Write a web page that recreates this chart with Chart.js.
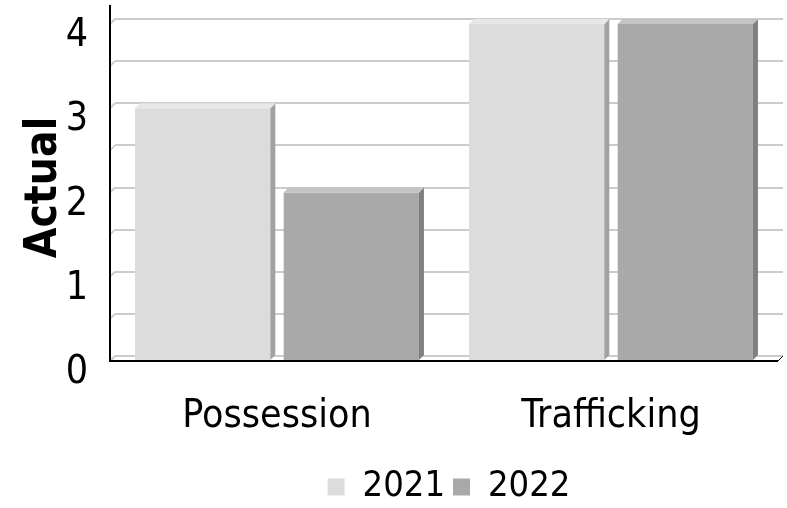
<!DOCTYPE html>
<html>
<head>
<meta charset="utf-8">
<script src="https://cdn.jsdelivr.net/npm/chart.js"></script>
<style>
  html, body { margin: 0; padding: 0; background: #fff; }
  #wrap { width: 787px; height: 508px; }
</style>
</head>
<body>
<div id="wrap"><canvas id="barChart" width="787" height="508"></canvas></div>
<script>
    const categories = ["Possession", "Trafficking"];
    const seriesNames = ["2021", "2022"];
    const values2021 = [3, 4];
    const values2022 = [2, 4];
    const yMin = 0;
    const yMax = 4;
    const yStep = 0.5;

    const FONT = "'DejaVu Sans Condensed', 'DejaVu Sans', sans-serif";
    const DEPTH = 5; // 3d offset of the back wall, in px

    // face colours: front, side, top
    const faces = [
        { front: "#dcdcdc", side: "#a2a2a2", top: "#e8e8e8" },
        { front: "#a9a9a9", side: "#808080", top: "#c4c4c4" }
    ];

    // draws the 3d look: axes, wall diagonals, bar sides and tops
    const fake3d = {
        id: "fake3d",
        afterDraw(chart) {
            let ctx = chart.ctx;
            let area = chart.chartArea;
            let y = chart.scales.y;

            ctx.save();
            // little diagonals where the back grid meets the axis
            ctx.strokeStyle = "#cccccc";
            ctx.lineWidth = 2;
            y.ticks.forEach(t => {
                let py = y.getPixelForValue(t.value);
                ctx.beginPath();
                ctx.moveTo(area.left, py);
                ctx.lineTo(area.left - DEPTH, py + DEPTH);
                ctx.stroke();
            });
            // axis lines
            ctx.strokeStyle = "#000";
            ctx.lineWidth = 2;
            ctx.beginPath();
            ctx.moveTo(area.left - DEPTH, 5);
            ctx.lineTo(area.left - DEPTH, area.bottom + DEPTH);
            ctx.lineTo(area.right - DEPTH, area.bottom + DEPTH);
            ctx.stroke();
            ctx.lineWidth = 1;
            ctx.beginPath();
            ctx.moveTo(area.right - DEPTH, area.bottom + DEPTH);
            ctx.lineTo(area.right, area.bottom);
            ctx.stroke();
            ctx.restore();
        },
        beforeDatasetsDraw(chart) {
            chart.ctx.save();
            chart.ctx.translate(-DEPTH, DEPTH);
        },
        afterDatasetsDraw(chart) {
            let ctx = chart.ctx;
            chart.data.datasets.forEach((ds, i) => {
                let meta = chart.getDatasetMeta(i);
                meta.data.forEach(bar => {
                    let p = bar.getProps(["x", "y", "base", "width"], true);
                    let x0 = p.x - p.width / 2;
                    let x1 = p.x + p.width / 2;
                    // side
                    ctx.fillStyle = faces[i].side;
                    ctx.beginPath();
                    ctx.moveTo(x1, p.y);
                    ctx.lineTo(x1 + DEPTH, p.y - DEPTH);
                    ctx.lineTo(x1 + DEPTH, p.base - DEPTH);
                    ctx.lineTo(x1, p.base);
                    ctx.closePath();
                    ctx.fill();
                    // top
                    ctx.fillStyle = faces[i].top;
                    ctx.beginPath();
                    ctx.moveTo(x0, p.y);
                    ctx.lineTo(x0 + DEPTH, p.y - DEPTH);
                    ctx.lineTo(x1 + DEPTH, p.y - DEPTH);
                    ctx.lineTo(x1, p.y);
                    ctx.closePath();
                    ctx.fill();
                });
            });
            ctx.restore();
        }
    };

    let ctx = document.getElementById("barChart").getContext("2d");
    let barChart = new Chart(ctx, {
        type: "bar",
        data: {
            labels: categories,
            datasets: [
                { label: seriesNames[0], data: values2021, backgroundColor: faces[0].front },
                { label: seriesNames[1], data: values2022, backgroundColor: faces[1].front }
            ]
        },
        options: {
            responsive: false,
            animation: false,
            devicePixelRatio: 1,
            clip: false,
            categoryPercentage: 0.89,
            barPercentage: 0.91,
            layout: { padding: { top: 19, right: 4, left: 0, bottom: -7 } },
            plugins: {
                tooltip: { enabled: false },
                legend: {
                    position: "bottom",
                    fullSize: false,
                    labels: {
                        color: "#000",
                        font: { family: FONT, size: 36 },
                        boxWidth: 17,
                        boxHeight: 17,
                        padding: 8
                    }
                }
            },
            scales: {
                x: {
                    grid: { display: false, drawTicks: false },
                    border: { display: false },
                    ticks: {
                        color: "#000",
                        font: { family: FONT, size: 39 },
                        padding: 37,
                        labelOffset: -DEPTH
                    },
                    afterFit: s => { s.height = 105; s.paddingLeft = 0; s.paddingRight = 0; }
                },
                y: {
                    min: yMin,
                    max: yMax,
                    grid: { color: "#cccccc", lineWidth: 2, drawTicks: false },
                    border: { display: false },
                    ticks: {
                        stepSize: yStep,
                        autoSkip: false,
                        color: "#000",
                        font: { family: FONT, size: 39 },
                        padding: 27,
                        labelOffset: 17,
                        callback: v => Number.isInteger(v) ? v : ""
                    },
                    title: {
                        display: true,
                        text: "Actual",
                        color: "#000",
                        font: { family: FONT, size: 44, weight: "bold" },
                        padding: { top: 18 }
                    },
                    afterFit: s => { s.width = 115; s.paddingTop = 0; s.paddingBottom = 0; }
                }
            }
        },
        plugins: [fake3d]
    });
</script>
</body>
</html>
